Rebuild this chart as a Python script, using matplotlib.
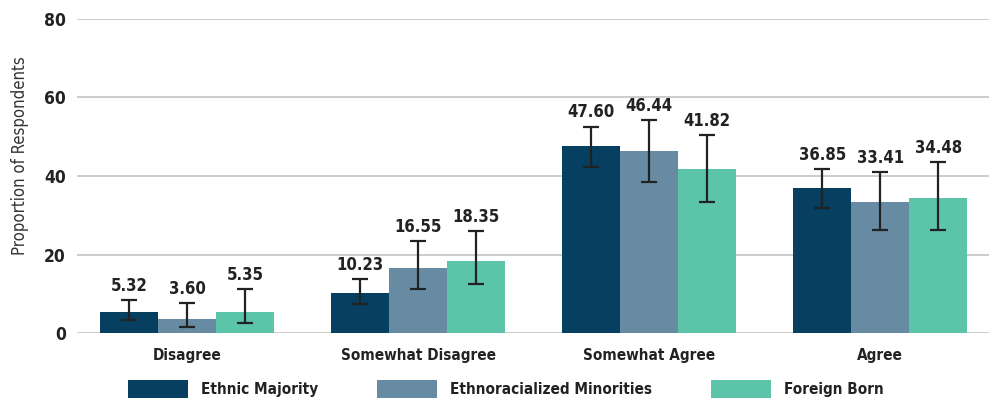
import matplotlib
matplotlib.use("Agg")
import matplotlib.pyplot as plt
import numpy as np

categories = ["Disagree", "Somewhat Disagree", "Somewhat Agree", "Agree"]
series = ["Ethnic Majority", "Ethnoracialized Minorities", "Foreign Born"]
colors = ["#073f60", "#678ba2", "#5cc4a9"]

values = {
    "Ethnic Majority": [5.32, 10.23, 47.60, 36.85],
    "Ethnoracialized Minorities": [3.60, 16.55, 46.44, 33.41],
    "Foreign Born": [5.35, 18.35, 41.82, 34.48],
}
ci_low = {
    "Ethnic Majority": [3.3, 7.4, 42.2, 31.9],
    "Ethnoracialized Minorities": [1.6, 11.2, 38.5, 26.2],
    "Foreign Born": [2.5, 12.5, 33.3, 26.2],
}
ci_high = {
    "Ethnic Majority": [8.4, 13.8, 52.6, 41.7],
    "Ethnoracialized Minorities": [7.6, 23.4, 54.3, 41.0],
    "Foreign Born": [11.2, 25.9, 50.4, 43.6],
}
yticks = [0, 20, 40, 60, 80]

plt.rcParams["font.family"] = ["DejaVu Sans"]
FS = dict(fontstretch="condensed")
TXT = "#222222"

W, H = 989, 401
fig = plt.figure(figsize=(W / 100, H / 100), dpi=100)
ax = fig.add_axes([77 / W, (H - 333) / H, 1 - 77 / W, (333 - 19) / H])

x = np.arange(len(categories))
width = 0.251
for i, s in enumerate(series):
    pos = x + (i - 1) * width
    v = np.array(values[s])
    lo = np.array(ci_low[s])
    hi = np.array(ci_high[s])
    ax.bar(pos, v, width=width, color=colors[i], label=s, zorder=2)
    ax.errorbar(pos, v, yerr=[v - lo, hi - v], fmt="none", ecolor=TXT,
                elinewidth=1.6, capsize=5.5, capthick=1.6, zorder=3)
    for px, val, top in zip(pos, v, hi):
        ax.text(px, top + 1.3, f"{val:.2f}", ha="center", va="bottom",
                fontsize=12, fontweight="bold", color=TXT, **FS)

ax.set_xlim(-0.476, 3.47)
ax.set_ylim(0, 80)
ax.set_yticks(yticks)
ax.set_yticklabels([str(t) for t in yticks], fontsize=12.5, fontweight="bold",
                   color=TXT, **FS)
ax.set_xticks(x)
ax.set_xticklabels(categories, fontsize=11, fontweight="bold", color=TXT, **FS)
ax.tick_params(axis="both", length=0)
ax.tick_params(axis="y", pad=8)
ax.tick_params(axis="x", pad=11)
ax.yaxis.grid(True, color="#c4c4c4", linewidth=1.2, zorder=0)
ax.set_axisbelow(True)
for sp in ax.spines.values():
    sp.set_visible(False)

# axis title, placed slightly above the vertical centre of the plot area
fig.text(20 / W, 1 - 156 / H, "Proportion of Respondents", rotation=90,
         ha="center", va="center", fontsize=12, color="#333333", **FS)

leg = fig.legend(loc="center left", bbox_to_anchor=(128 / W, 1 - 389 / H), ncol=3,
                 frameon=False, handlelength=3.93, handleheight=1.44,
                 handletextpad=0.85, columnspacing=3.85, borderaxespad=0,
                 borderpad=0, prop=dict(size=11, weight="bold", stretch="condensed"))
for t in leg.get_texts():
    t.set_color(TXT)

fig.savefig("out.png", dpi=100)
